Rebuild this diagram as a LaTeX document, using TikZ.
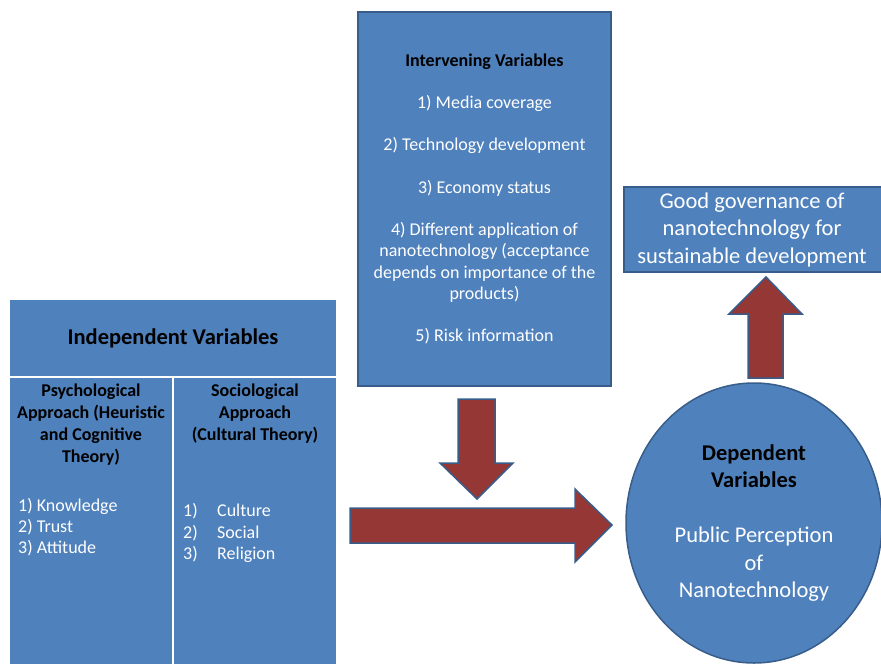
\documentclass[tikz,border=0pt]{standalone}
\usepackage{fontspec}
\setmainfont{Carlito}
\usetikzlibrary{shapes.geometric}
\definecolor{boxblue}{RGB}{79,129,189}
\definecolor{edgeblue}{RGB}{56,93,138}
\definecolor{arrowred}{RGB}{149,55,53}

\begin{document}
\begin{tikzpicture}[x=1pt, y=-1pt, inner sep=0pt,
    panel/.style={fill=boxblue, draw=edgeblue, line width=1.5pt},
    cell/.style={fill=boxblue},
    blockarrow/.style={fill=arrowred, draw=edgeblue, line width=1.5pt, line join=miter},
    head/.style={font=\fontsize{18}{22}\selectfont\bfseries, text=black, align=center},
    body/.style={font=\fontsize{18}{21.3}\selectfont, text=white},
    big/.style={font=\fontsize{22.5}{27.5}\selectfont, text=white, align=center}]
  \useasboundingbox (0,0) rectangle (881,664);
  \clip (0,0) rectangle (881,664);

  % Independent variables table
  \node[cell, minimum width=326, minimum height=76, font=\fontsize{22.5}{27}\selectfont\bfseries]
    (indep) at (173,338) {\raisebox{-3pt}{Independent Variables}};
  \node[cell, minimum width=162, minimum height=288] (psych) at (91,522) {};
  \node[cell, minimum width=162, minimum height=288] (socio) at (255,522) {};
  \node[head] (psychtitle) at (91,425) {Psychological\\Approach (Heuristic\\and Cognitive\\Theory)};
  \node[head] (sociotitle) at (255,414) {Sociological\\Approach\\(Cultural Theory)};
  \node[body, align=left, anchor=west] (psychlist) at (18,527) {1) Knowledge\\2) Trust\\3) Attitude};
  \node[body, align=left, anchor=west] (sociolist) at (183,533)
    {\makebox[34pt][l]{1)}Culture\\\makebox[34pt][l]{2)}Social\\\makebox[34pt][l]{3)}Religion};

  % Intervening variables
  \node[panel, minimum width=253, minimum height=374, body, align=center] (inter) at (484.5,199)
    {\textcolor{black}{\bfseries Intervening Variables}\\[21pt]
     1) Media coverage\\[21pt]
     2) Technology development\\[21pt]
     3) Economy status\\[21pt]
     4) Different application of\\nanotechnology (acceptance\\depends on importance of the\\products)\\[21pt]
     5) Risk information};

  % Outcome box (runs off the right edge)
  \node[panel, minimum width=270, minimum height=85] (gov) at (759,229.5) {};
  \node[big] (govtext) at (752,229.5)
    {Good governance of\\nanotechnology for\\sustainable development};

  % Dependent variables
  \node[panel, ellipse, minimum width=256, minimum height=280, big] (dep) at (754,523)
    {\textcolor{black}{\bfseries Dependent}\\\textcolor{black}{\bfseries Variables}\\[27.5pt]
     Public Perception\\of\\Nanotechnology};

  % Block arrows
  \draw[blockarrow] (458,399) -- (495,399) -- (495,463) -- (513,463) -- (477,499)
    -- (440,463) -- (458,463) -- cycle;
  \draw[blockarrow] (350,508) -- (575,508) -- (575,489) -- (612,525) -- (575,562)
    -- (575,543) -- (350,543) -- cycle;
  \draw[blockarrow] (748,378) -- (748,314) -- (729,314) -- (766,277) -- (802,314)
    -- (783,314) -- (783,378) -- cycle;
\end{tikzpicture}
\end{document}
